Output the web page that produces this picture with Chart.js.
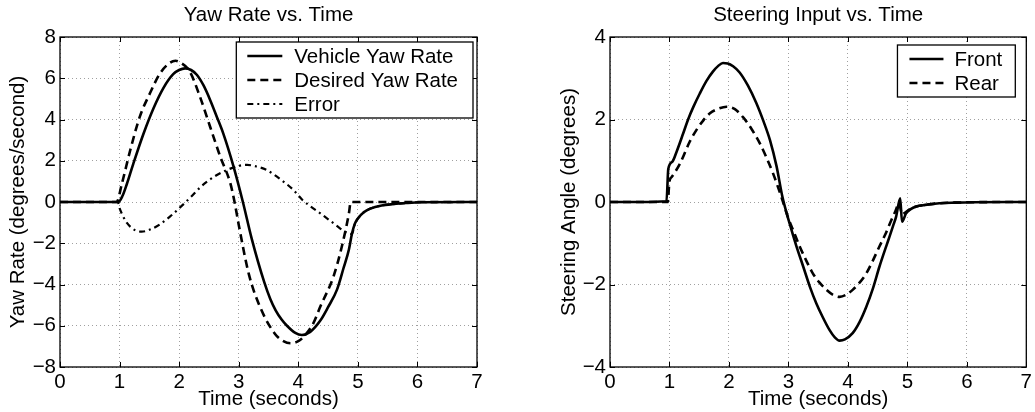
<!DOCTYPE html>
<html>
<head>
<meta charset="utf-8">
<script src="https://cdn.jsdelivr.net/npm/chart.js@4.4.1/dist/chart.umd.min.js"></script>
<style>
  body { margin: 0; background: #fff; }
  .row { display: flex; width: 1035px; height: 412px; }
</style>
</head>
<body>
<div class="row">
  <canvas id="yawChart" width="517" height="412"></canvas>
  <canvas id="steerChart" width="518" height="412"></canvas>
</div>
<script>
// yaw rate (deg/s)
var vehicleT = [0, 0.5, 0.98, 1.05, 1.12, 1.23, 1.4, 1.57, 1.74, 1.9, 2.0, 2.1, 2.2, 2.3, 2.41, 2.52, 2.63, 2.74, 2.91, 3.07, 3.22, 3.43, 3.53, 3.62, 3.72, 3.81, 3.95, 4.06, 4.2, 4.37, 4.5, 4.65, 4.76, 4.85, 4.9, 4.95, 5.0, 5.1, 5.21, 5.4, 5.6, 5.8, 6.05, 7]
var vehicleYaw = [0, 0, 0, 0.3, 0.85, 1.85, 3.3, 4.55, 5.55, 6.2, 6.4, 6.48, 6.4, 6.16, 5.65, 4.95, 4.15, 3.33, 1.75, 0, -1.8, -3.9, -4.7, -5.25, -5.7, -6.0, -6.35, -6.45, -6.3, -5.75, -5.1, -4.25, -3.2, -2.3, -1.55, -1.05, -0.8, -0.5, -0.32, -0.17, -0.1, -0.05, -0.01, 0]

var desiredT = [0, 0.5, 0.95, 1.04, 1.18, 1.34, 1.51, 1.68, 1.85, 1.94, 2.02, 2.18, 2.35, 2.52, 2.69, 2.86, 2.93, 3.0, 3.17, 3.36, 3.61, 3.75, 3.87, 4.0, 4.09, 4.25, 4.37, 4.59, 4.73, 4.85, 4.88, 5.5, 7]
var desiredYaw = [0, 0, 0, 0.9, 2.52, 4.14, 5.27, 6.24, 6.76, 6.85, 6.76, 6.32, 5.1, 3.65, 2.2, 0.9, 0, -1.1, -3.5, -5.1, -6.4, -6.75, -6.85, -6.75, -6.53, -5.9, -5.07, -3.62, -2.17, -0.55, 0, 0, 0]

var errorT = [0, 0.5, 0.97, 1.0, 1.06, 1.12, 1.25, 1.37, 1.5, 1.68, 1.85, 2.02, 2.2, 2.35, 2.6, 2.8, 3.0, 3.14, 3.3, 3.47, 3.7, 3.92, 4.07, 4.2, 4.37, 4.6, 4.76, 4.85, 4.9, 4.95, 5.0, 5.1, 5.21, 5.4, 5.6, 5.8, 6.05, 7]
var yawError = [0, 0, 0, -0.3, -0.7, -1.0, -1.35, -1.44, -1.35, -1.08, -0.7, -0.25, 0.25, 0.7, 1.25, 1.55, 1.75, 1.8, 1.72, 1.55, 1.1, 0.58, 0.1, -0.2, -0.55, -1.05, -1.4, -1.52, -1.55, -1.05, -0.8, -0.5, -0.32, -0.17, -0.1, -0.05, -0.01, 0]

// steering angle (deg)
var frontT = [0, 0.5, 0.95, 0.98, 1.05, 1.12, 1.23, 1.31, 1.4, 1.51, 1.62, 1.73, 1.82, 1.9, 1.98, 2.07, 2.18, 2.32, 2.46, 2.58, 2.69, 2.8, 2.9, 3.02, 3.13, 3.25, 3.36, 3.47, 3.58, 3.69, 3.78, 3.86, 3.95, 4.08, 4.2, 4.31, 4.42, 4.53, 4.65, 4.7, 4.76, 4.81, 4.88, 4.91, 4.98, 5.05, 5.15, 5.3, 5.54, 5.8, 6.1, 7]
var frontAngle = [0, 0, 0.02, 0.8, 0.98, 1.22, 1.66, 1.99, 2.3, 2.63, 2.93, 3.16, 3.3, 3.37, 3.36, 3.29, 3.14, 2.82, 2.4, 1.96, 1.5, 0.87, 0.12, -0.52, -1.05, -1.57, -2.05, -2.46, -2.8, -3.1, -3.28, -3.36, -3.33, -3.18, -2.9, -2.54, -2.1, -1.57, -1.05, -0.84, -0.58, -0.36, 0.09, -0.48, -0.27, -0.18, -0.11, -0.07, -0.03, -0.015, -0.005, 0]

var rearT = [0, 0.5, 0.97, 1.0, 1.04, 1.18, 1.34, 1.46, 1.57, 1.68, 1.82, 1.96, 2.1, 2.24, 2.38, 2.52, 2.63, 2.74, 2.88, 2.99, 3.09, 3.19, 3.3, 3.41, 3.52, 3.64, 3.75, 3.86, 3.97, 4.08, 4.2, 4.31, 4.42, 4.53, 4.63, 4.73, 4.8, 4.86, 4.91, 4.98, 5.05, 5.15, 5.3, 5.54, 5.8, 6.1, 7]
var rearAngle = [0, 0, 0, 0.5, 0.61, 0.94, 1.46, 1.76, 1.98, 2.15, 2.26, 2.31, 2.25, 2.05, 1.77, 1.42, 1.08, 0.7, 0.13, -0.36, -0.72, -1.08, -1.42, -1.73, -1.95, -2.13, -2.25, -2.3, -2.25, -2.13, -1.95, -1.73, -1.42, -1.08, -0.78, -0.44, -0.22, -0.02, -0.3, -0.24, -0.17, -0.11, -0.07, -0.03, -0.015, -0.005, 0]

var FONT = '"Liberation Sans", Arial, sans-serif'
var FSIZE = 20.5
Chart.defaults.font.family = FONT
Chart.defaults.font.size = FSIZE
Chart.defaults.color = '#000'

function pts(ts, vs) {
    return ts.map(function (t, i) { return {x: t, y: vs[i]} })
}

function minus(v) {
    return v < 0 ? '\u2212' + Math.abs(v) : '' + v
}

function series(label, ts, vs, dash, width) {
    return {
        label: label,
        data: pts(ts, vs),
        borderColor: '#000',
        borderWidth: width,
        borderDash: dash,
        pointRadius: 0,
        fill: false,
        cubicInterpolationMode: 'monotone'
    }
}

// black box round the plot with inward tick marks on all four sides
var frame = {
    id: 'frame',
    afterDatasetsDraw: function (chart) {
        var ctx = chart.ctx, a = chart.chartArea, sx = chart.scales.x, sy = chart.scales.y
        ctx.save()
        ctx.strokeStyle = '#000'
        ctx.lineWidth = 1.3
        ctx.strokeRect(a.left, a.top, a.right - a.left, a.bottom - a.top)
        ctx.lineWidth = 1
        ctx.beginPath()
        sx.ticks.forEach(function (t) {
            var p = Math.round(sx.getPixelForValue(t.value)) + 0.5
            ctx.moveTo(p, a.bottom); ctx.lineTo(p, a.bottom - 5)
            ctx.moveTo(p, a.top); ctx.lineTo(p, a.top + 5)
        })
        sy.ticks.forEach(function (t) {
            var p = Math.round(sy.getPixelForValue(t.value)) + 0.5
            ctx.moveTo(a.left, p); ctx.lineTo(a.left + 5, p)
            ctx.moveTo(a.right, p); ctx.lineTo(a.right - 5, p)
        })
        ctx.stroke()
        ctx.restore()
    }
}

var panelTitle = {
    id: 'panelTitle',
    afterDraw: function (chart, args, opts) {
        var ctx = chart.ctx, a = chart.chartArea
        ctx.save()
        ctx.font = FSIZE + 'px ' + FONT
        ctx.fillStyle = '#000'
        ctx.textAlign = 'center'
        ctx.textBaseline = 'middle'
        ctx.fillText(opts.text, (a.left + a.right) / 2, opts.y)
        ctx.restore()
    }
}

// legend box in the upper right corner of the plot
var boxLegend = {
    id: 'boxLegend',
    afterDraw: function (chart, args, opts) {
        var ctx = chart.ctx, a = chart.chartArea, sets = chart.data.datasets
        ctx.save()
        ctx.font = FSIZE + 'px ' + FONT
        var tw = Math.max.apply(null, sets.map(function (d) { return ctx.measureText(d.label).width }))
        var w = opts.textX + tw + opts.padRight
        var h = sets.length * 24 + 4
        var left = a.right - opts.right - w, top = a.top + opts.top
        ctx.fillStyle = '#fff'
        ctx.fillRect(left, top, w, h)
        ctx.strokeStyle = '#000'
        ctx.lineWidth = 1.3
        ctx.strokeRect(left, top, w, h)
        sets.forEach(function (d, i) {
            var y = top + 14 + i * 24
            ctx.beginPath()
            ctx.setLineDash(d.borderDash || [])
            ctx.lineWidth = d.borderWidth
            ctx.moveTo(left + opts.lineX0, y)
            ctx.lineTo(left + opts.lineX1, y)
            ctx.stroke()
            ctx.setLineDash([])
            ctx.fillStyle = '#000'
            ctx.textBaseline = 'middle'
            ctx.fillText(d.label, left + opts.textX, y + 1)
        })
        ctx.restore()
    }
}

function makeChart(id, datasets, yMin, yMax, yTitle, title, yWidth, padRight, yTitlePad, legend) {
    var ctx = document.getElementById(id).getContext('2d')
    return new Chart(ctx, {
        type: 'line',
        data: {datasets: datasets},
        options: {
            responsive: false,
            animation: false,
            layout: {padding: {top: 37, right: padRight, left: 0, bottom: 0}},
            plugins: {
                legend: {display: false},
                tooltip: {enabled: false},
                panelTitle: {text: title, y: 15},
                boxLegend: legend
            },
            scales: {
                x: {
                    type: 'linear',
                    min: 0, max: 7,
                    ticks: {stepSize: 1, padding: 3, maxRotation: 0},
                    grid: {color: '#a0a0a0', lineWidth: 1, drawTicks: false},
                    border: {display: false, dash: [1, 3]},
                    title: {display: true, text: 'Time (seconds)', padding: {top: 0, bottom: 0}},
                    afterFit: function (s) { s.height = 45 }
                },
                y: {
                    min: yMin, max: yMax,
                    ticks: {stepSize: 2, padding: 4, callback: minus},
                    grid: {color: '#a0a0a0', lineWidth: 1, drawTicks: false},
                    border: {display: false, dash: [1, 3]},
                    title: {display: true, text: yTitle, padding: {top: yTitlePad, bottom: 0}},
                    afterFit: function (s) { s.width = yWidth }
                }
            }
        },
        plugins: [frame, panelTitle, boxLegend]
    })
}

makeChart('yawChart', [
    series('Vehicle Yaw Rate', vehicleT, vehicleYaw, [], 2.6),
    series('Desired Yaw Rate', desiredT, desiredYaw, [8, 5], 2.6),
    series('Error', errorT, yawError, [6, 4, 2, 4], 2.2)
], -8, 8, 'Yaw Rate (degrees/second)', 'Yaw Rate vs. Time', 60, 40, 6,
    {right: 4, top: 5, padRight: 15, lineX0: 11, lineX1: 46, textX: 58})

makeChart('steerChart', [
    series('Front', frontT, frontAngle, [], 2.6),
    series('Rear', rearT, rearAngle, [8, 5], 2.6)
], -4, 4, 'Steering Angle (degrees)', 'Steering Input vs. Time', 93, 8, 40,
    {right: 11, top: 8, padRight: 13, lineX0: 12, lineX1: 46, textX: 57})
</script>
</body>
</html>
